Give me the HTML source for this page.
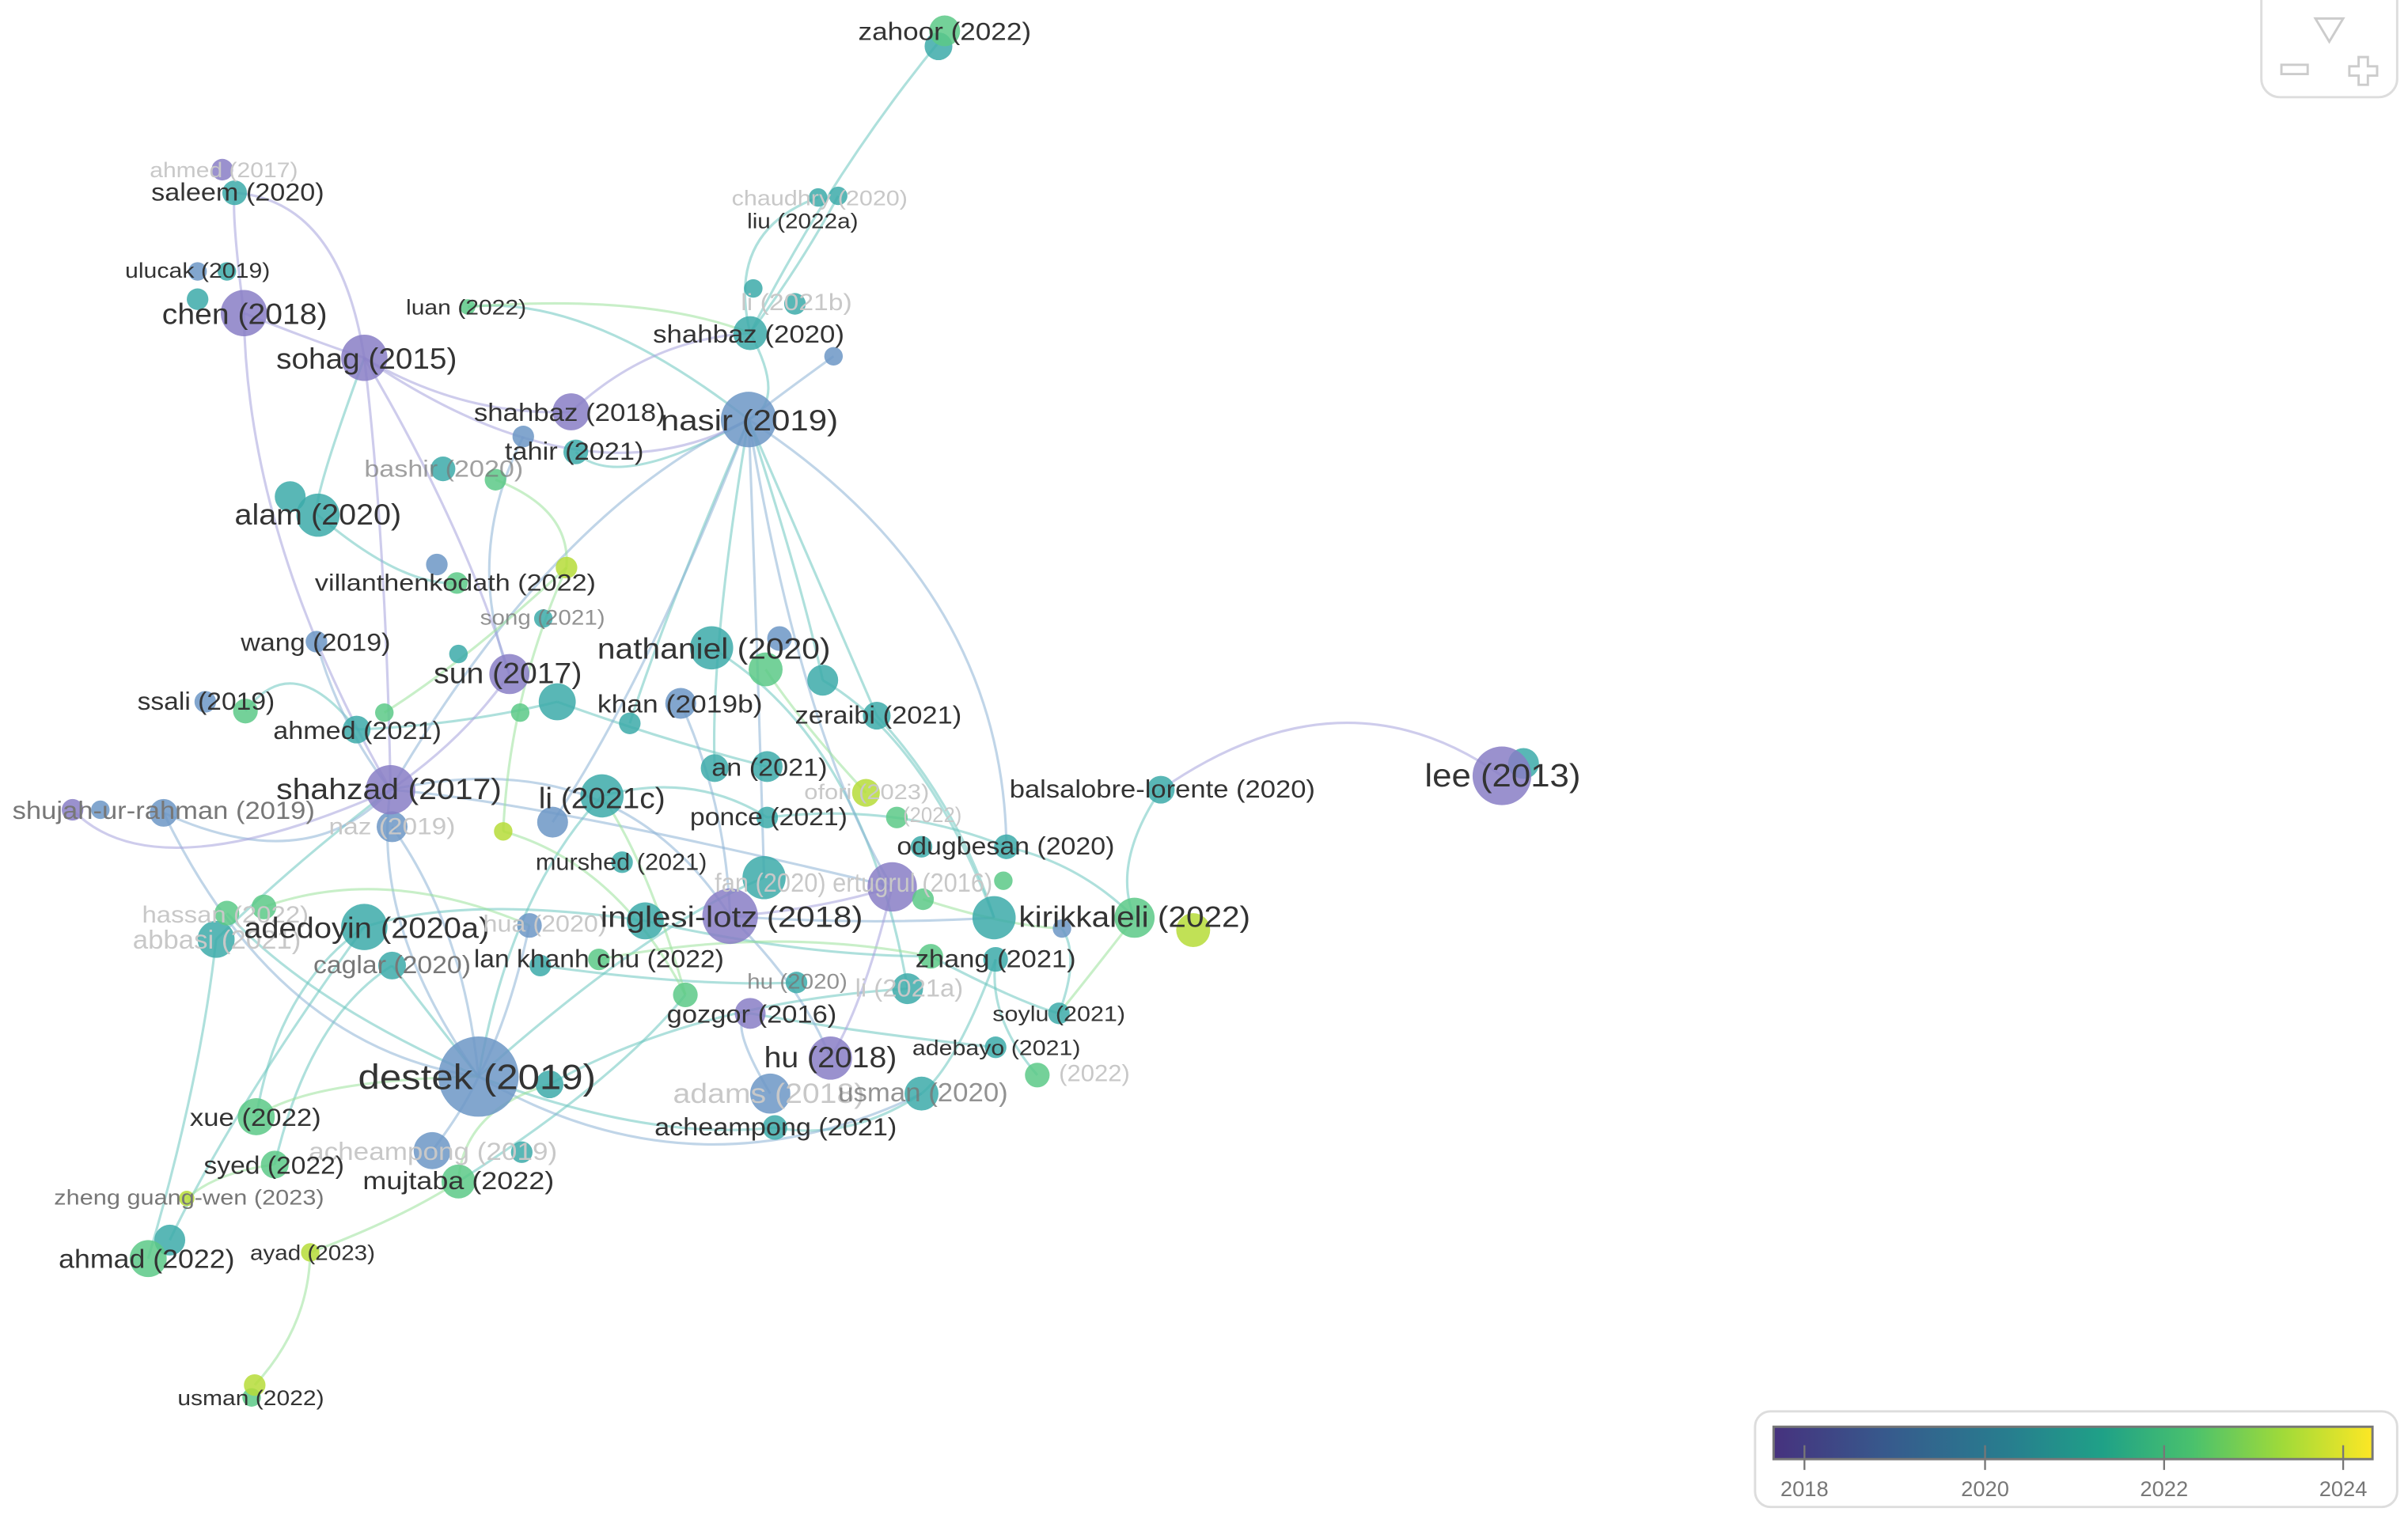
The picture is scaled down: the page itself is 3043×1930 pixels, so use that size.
<!DOCTYPE html>
<html><head><meta charset="utf-8"><style>
html,body{margin:0;padding:0;background:#fff;}
svg{display:block;}
text{font-family:"Liberation Sans",sans-serif;fill:#333;}
.f{fill:#c8c8c8;}
.g{fill:#777;}
</style></head><body>
<svg width="3043" height="1930" viewBox="0 0 1560 990" preserveAspectRatio="none" xmlns="http://www.w3.org/2000/svg">
<defs>
<linearGradient id="vir" x1="0" x2="1" y1="0" y2="0">
<stop offset="0" stop-color="#46327e"/><stop offset="0.2" stop-color="#365c8d"/><stop offset="0.4" stop-color="#277f8e"/><stop offset="0.55" stop-color="#1fa187"/><stop offset="0.7" stop-color="#4ac16d"/><stop offset="0.85" stop-color="#a0da39"/><stop offset="1" stop-color="#fde725"/>
</linearGradient>
</defs>
<g fill="none" stroke-width="1.6" stroke-opacity="0.55">
<!-- teal edges -->
<g stroke="#6cc6bf">
<path d="M610 25 Q540 110 486 216"/>
<path d="M486 216 Q470 150 530 128"/>
<path d="M486 216 Q520 170 543 127"/>
<path d="M486 216 Q510 260 485 272"/>
<path d="M485 272 Q380 190 303 199"/>
<path d="M485 272 Q400 320 373 293"/>
<path d="M485 272 Q430 400 408 469"/>
<path d="M485 272 Q520 380 533 441"/>
<path d="M485 272 Q460 420 463 498"/>
<path d="M485 272 Q540 400 568 464"/>
<path d="M236 232 Q200 330 206 334"/>
<path d="M206 334 Q260 380 296 378"/>
<path d="M159 461 Q190 420 231 473"/>
<path d="M231 473 Q300 470 361 455"/>
<path d="M361 455 Q430 480 497 497"/>
<path d="M390 516 Q450 500 497 530"/>
<path d="M497 530 Q580 520 652 549"/>
<path d="M652 549 Q700 560 735 595"/>
<path d="M752 512 Q720 560 735 595"/>
<path d="M236 601 Q300 580 418 597"/>
<path d="M418 597 Q520 620 603 620"/>
<path d="M603 620 Q660 650 686 657"/>
<path d="M645 622 Q620 690 597 709"/>
<path d="M597 709 Q550 740 502 731"/>
<path d="M310 698 Q420 740 502 731"/>
<path d="M310 698 Q420 600 495 569"/>
<path d="M310 698 Q330 580 390 516"/>
<path d="M254 626 Q280 660 310 698"/>
<path d="M166 724 Q180 640 236 601"/>
<path d="M178 755 Q200 660 254 626"/>
<path d="M96 816 Q130 700 140 609"/>
<path d="M110 804 Q150 720 236 601"/>
<path d="M533 441 Q600 480 644 595"/>
<path d="M568 464 Q620 520 644 595"/>
<path d="M461 420 Q560 480 588 641"/>
<path d="M140 609 Q190 560 253 512"/>
<path d="M356 703 Q450 650 588 641"/>
<path d="M297 766 Q400 700 444 645"/>
<path d="M486 657 Q560 670 645 679"/>
<path d="M672 697 Q640 660 645 622"/>
<path d="M686 657 Q700 620 688 602"/>
<path d="M147 592 Q200 650 310 698"/>
<path d="M350 626 Q450 640 516 637"/>
</g>
<!-- blue edges -->
<g stroke="#8db3d6">
<path d="M485 272 Q650 380 652 549"/>
<path d="M485 272 Q360 330 253 512"/>
<path d="M485 272 Q420 440 358 533"/>
<path d="M485 272 Q490 400 495 569"/>
<path d="M485 272 Q520 480 578 575"/>
<path d="M540 231 Q500 260 485 272"/>
<path d="M310 698 Q240 600 253 512"/>
<path d="M310 698 Q180 680 106 527"/>
<path d="M106 527 Q200 570 253 512"/>
<path d="M253 512 Q400 480 473 594"/>
<path d="M253 512 Q350 520 578 575"/>
<path d="M473 594 Q520 640 538 686"/>
<path d="M310 698 Q450 780 597 709"/>
<path d="M205 416 Q220 470 253 512"/>
<path d="M441 456 Q470 520 473 594"/>
<path d="M343 600 Q330 660 310 698"/>
<path d="M499 709 Q470 660 486 657"/>
<path d="M280 746 Q300 720 310 698"/>
<path d="M254 536 Q300 600 310 698"/>
<path d="M644 595 Q560 600 473 594"/>
<path d="M339 283 Q300 360 330 437"/>
</g>
<!-- purple edges -->
<g stroke="#a5a3dc">
<path d="M158 203 Q150 140 152 125"/>
<path d="M158 203 Q200 220 236 232"/>
<path d="M158 203 Q160 350 253 512"/>
<path d="M236 232 Q300 270 370 267"/>
<path d="M236 232 Q300 340 330 437"/>
<path d="M236 232 Q220 130 152 125"/>
<path d="M236 232 Q250 350 253 512"/>
<path d="M370 267 Q420 220 486 216"/>
<path d="M330 437 Q300 480 253 512"/>
<path d="M47 525 Q100 580 253 512"/>
<path d="M236 232 Q380 330 485 272"/>
<path d="M973 503 Q870 430 752 512"/>
<path d="M578 575 Q530 590 473 594"/>
<path d="M578 575 Q560 650 538 686"/>
</g>
<!-- green/yellow edges -->
<g stroke="#9be29a">
<path d="M303 199 Q420 190 486 216"/>
<path d="M321 311 Q370 330 367 368"/>
<path d="M367 368 Q330 450 326 539"/>
<path d="M201 812 Q200 860 165 898"/>
<path d="M201 812 Q260 790 297 766"/>
<path d="M121 777 Q140 760 178 755"/>
<path d="M561 514 Q520 470 496 434"/>
<path d="M735 595 Q700 640 686 657"/>
<path d="M388 622 Q500 600 603 620"/>
<path d="M444 645 Q420 560 390 516"/>
<path d="M166 724 Q200 700 310 698"/>
<path d="M297 766 Q300 720 356 703"/>
<path d="M249 462 Q300 430 367 368"/>
<path d="M171 588 Q250 560 343 600"/>
<path d="M598 583 Q650 600 688 602"/>
<path d="M326 539 Q400 560 444 645"/>
</g>
</g>
<!-- nodes -->
<g fill-opacity="0.85">
<g fill="#3caaa9">
<circle cx="608" cy="30" r="9"/>
<circle cx="152" cy="125" r="8"/>
<circle cx="530" cy="128" r="6"/><circle cx="543" cy="127" r="6"/>
<circle cx="147" cy="176" r="6"/><circle cx="128" cy="194" r="7"/>
<circle cx="515" cy="197" r="7"/><circle cx="488" cy="187" r="6"/>
<circle cx="486" cy="216" r="11"/>
<circle cx="373" cy="293" r="8"/><circle cx="287" cy="304" r="8"/>
<circle cx="188" cy="322" r="10"/><circle cx="206" cy="334" r="14"/>
<circle cx="352" cy="401" r="6"/><circle cx="461" cy="420" r="14"/>
<circle cx="297" cy="424" r="6"/><circle cx="533" cy="441" r="10"/>
<circle cx="361" cy="455" r="12"/><circle cx="568" cy="464" r="9"/>
<circle cx="231" cy="473" r="9"/><circle cx="408" cy="469" r="7"/>
<circle cx="463" cy="498" r="9"/><circle cx="497" cy="497" r="10"/>
<circle cx="987" cy="495" r="10"/><circle cx="752" cy="512" r="9"/>
<circle cx="390" cy="516" r="14"/><circle cx="497" cy="530" r="7"/>
<circle cx="652" cy="549" r="8"/><circle cx="597" cy="549" r="7"/>
<circle cx="403" cy="559" r="7"/><circle cx="495" cy="569" r="14"/>
<circle cx="140" cy="609" r="12"/><circle cx="236" cy="601" r="15"/>
<circle cx="418" cy="597" r="12"/><circle cx="644" cy="595" r="14"/>
<circle cx="645" cy="622" r="8"/><circle cx="254" cy="626" r="9"/>
<circle cx="350" cy="626" r="7"/><circle cx="516" cy="637" r="7"/>
<circle cx="588" cy="641" r="10"/><circle cx="686" cy="657" r="7"/>
<circle cx="645" cy="679" r="7"/><circle cx="356" cy="703" r="9"/>
<circle cx="597" cy="709" r="11"/><circle cx="502" cy="731" r="8"/>
<circle cx="338" cy="747" r="7"/><circle cx="110" cy="804" r="10"/>
</g>
<g fill="#6c97c6">
<circle cx="128" cy="176" r="6"/><circle cx="540" cy="231" r="6"/>
<circle cx="339" cy="283" r="7"/><circle cx="485" cy="272" r="18"/>
<circle cx="283" cy="366" r="7"/><circle cx="505" cy="414" r="8"/>
<circle cx="205" cy="416" r="7"/><circle cx="133" cy="455" r="7"/>
<circle cx="441" cy="456" r="10"/><circle cx="358" cy="533" r="10"/>
<circle cx="65" cy="525" r="6"/><circle cx="106" cy="527" r="9"/>
<circle cx="254" cy="536" r="10"/><circle cx="343" cy="600" r="8"/>
<circle cx="688" cy="602" r="6"/><circle cx="310" cy="698" r="26"/>
<circle cx="499" cy="709" r="13"/><circle cx="280" cy="746" r="12"/>
</g>
<g fill="#887ec6">
<circle cx="144" cy="110" r="7"/><circle cx="158" cy="203" r="15"/>
<circle cx="236" cy="232" r="15"/><circle cx="370" cy="267" r="12"/>
<circle cx="330" cy="437" r="13"/><circle cx="973" cy="503" r="19"/>
<circle cx="253" cy="512" r="16"/><circle cx="47" cy="525" r="7"/>
<circle cx="578" cy="575" r="16"/><circle cx="473" cy="594" r="18"/>
<circle cx="486" cy="657" r="10"/><circle cx="538" cy="686" r="14"/>
</g>
<g fill="#5cc987">
<circle cx="612" cy="20" r="10"/><circle cx="303" cy="199" r="5"/>
<circle cx="321" cy="311" r="7"/><circle cx="296" cy="378" r="7"/>
<circle cx="496" cy="434" r="11"/><circle cx="159" cy="461" r="8"/>
<circle cx="249" cy="462" r="6"/><circle cx="337" cy="462" r="6"/>
<circle cx="581" cy="530" r="7"/><circle cx="650" cy="571" r="6"/>
<circle cx="598" cy="583" r="7"/><circle cx="147" cy="592" r="8"/>
<circle cx="171" cy="588" r="8"/><circle cx="735" cy="595" r="13"/>
<circle cx="603" cy="620" r="8"/><circle cx="388" cy="622" r="7"/>
<circle cx="444" cy="645" r="8"/><circle cx="672" cy="697" r="8"/>
<circle cx="166" cy="724" r="12"/><circle cx="178" cy="755" r="9"/>
<circle cx="297" cy="766" r="11"/><circle cx="96" cy="816" r="12"/>
<circle cx="163" cy="906" r="6"/>
</g>
<g fill="#b6dc38">
<circle cx="367" cy="368" r="7"/><circle cx="561" cy="514" r="9"/>
<circle cx="326" cy="539" r="6"/><circle cx="773" cy="603" r="11"/>
<circle cx="121" cy="777" r="5"/><circle cx="201" cy="812" r="6"/>
<circle cx="165" cy="898" r="7"/>
</g>
</g>
<!-- labels -->
<g font-size="16">
<text x="556" y="26" textLength="112" lengthAdjust="spacingAndGlyphs">zahoor (2022)</text>
<text class="f" x="97" y="115" font-size="14" textLength="96" lengthAdjust="spacingAndGlyphs">ahmed (2017)</text>
<text x="98" y="130" textLength="112" lengthAdjust="spacingAndGlyphs">saleem (2020)</text>
<text class="f" x="474" y="133" font-size="14" textLength="114" lengthAdjust="spacingAndGlyphs">chaudhry (2020)</text>
<text x="484" y="148" font-size="14" textLength="72" lengthAdjust="spacingAndGlyphs">liu (2022a)</text>
<text x="81" y="180" font-size="14" textLength="94" lengthAdjust="spacingAndGlyphs">ulucak (2019)</text>
<text x="105" y="210" font-size="19" textLength="107" lengthAdjust="spacingAndGlyphs">chen (2018)</text>
<text x="263" y="204" font-size="14" textLength="78" lengthAdjust="spacingAndGlyphs">luan (2022)</text>
<text class="f" x="480" y="201" font-size="15" textLength="72" lengthAdjust="spacingAndGlyphs">li (2021b)</text>
<text x="179" y="239" font-size="19" textLength="117" lengthAdjust="spacingAndGlyphs">sohag (2015)</text>
<text x="423" y="222" font-size="16" textLength="124" lengthAdjust="spacingAndGlyphs">shahbaz (2020)</text>
<text x="307" y="273" font-size="16" textLength="124" lengthAdjust="spacingAndGlyphs">shahbaz (2018)</text>
<text x="428" y="279" font-size="19" textLength="115" lengthAdjust="spacingAndGlyphs">nasir (2019)</text>
<text x="327" y="298" font-size="16" textLength="90" lengthAdjust="spacingAndGlyphs">tahir (2021)</text>
<text class="g" x="236" y="309" font-size="15" fill-opacity="0.7" textLength="103" lengthAdjust="spacingAndGlyphs">bashir (2020)</text>
<text x="152" y="340" font-size="19" textLength="108" lengthAdjust="spacingAndGlyphs">alam (2020)</text>
<text x="204" y="383" font-size="15" textLength="182" lengthAdjust="spacingAndGlyphs">villanthenkodath (2022)</text>
<text class="g" x="311" y="405" font-size="14" fill-opacity="0.8" textLength="81" lengthAdjust="spacingAndGlyphs">song (2021)</text>
<text x="387" y="427" font-size="19" textLength="151" lengthAdjust="spacingAndGlyphs">nathaniel (2020)</text>
<text x="156" y="422" font-size="16" textLength="97" lengthAdjust="spacingAndGlyphs">wang (2019)</text>
<text x="281" y="443" font-size="19" textLength="96" lengthAdjust="spacingAndGlyphs">sun (2017)</text>
<text x="89" y="460" font-size="16" textLength="89" lengthAdjust="spacingAndGlyphs">ssali (2019)</text>
<text x="387" y="462" font-size="16" textLength="107" lengthAdjust="spacingAndGlyphs">khan (2019b)</text>
<text x="515" y="469" font-size="16" textLength="108" lengthAdjust="spacingAndGlyphs">zeraibi (2021)</text>
<text x="177" y="479" font-size="16" textLength="109" lengthAdjust="spacingAndGlyphs">ahmed (2021)</text>
<text x="461" y="503" font-size="16" textLength="75" lengthAdjust="spacingAndGlyphs">an (2021)</text>
<text x="923" y="510" font-size="21" textLength="101" lengthAdjust="spacingAndGlyphs">lee (2013)</text>
<text x="654" y="517" font-size="16" textLength="198" lengthAdjust="spacingAndGlyphs">balsalobre-lorente (2020)</text>
<text class="f" x="521" y="518" font-size="14" textLength="81" lengthAdjust="spacingAndGlyphs">ofori (2023)</text>
<text class="f" x="585" y="533" font-size="14" textLength="38" lengthAdjust="spacingAndGlyphs">(2022)</text>
<text x="179" y="518" font-size="19" textLength="146" lengthAdjust="spacingAndGlyphs">shahzad (2017)</text>
<text x="349" y="524" font-size="19" textLength="82" lengthAdjust="spacingAndGlyphs">li (2021c)</text>
<text class="g" x="8" y="531" font-size="16" textLength="196" lengthAdjust="spacingAndGlyphs">shujah-ur-rahman (2019)</text>
<text class="f" x="213" y="541" font-size="15" textLength="82" lengthAdjust="spacingAndGlyphs">naz (2019)</text>
<text x="447" y="535" font-size="16" textLength="102" lengthAdjust="spacingAndGlyphs">ponce (2021)</text>
<text x="581" y="554" font-size="16" textLength="141" lengthAdjust="spacingAndGlyphs">odugbesan (2020)</text>
<text x="347" y="564" font-size="15" textLength="111" lengthAdjust="spacingAndGlyphs">murshed (2021)</text>
<text class="f" x="463" y="578" font-size="17" textLength="180" lengthAdjust="spacingAndGlyphs">fan (2020) ertugrul (2016)</text>
<text class="f" x="92" y="598" font-size="15" textLength="108" lengthAdjust="spacingAndGlyphs">hassan (2022)</text>
<text class="f" x="86" y="615" font-size="17" textLength="109" lengthAdjust="spacingAndGlyphs">abbasi (2021)</text>
<text x="158" y="608" font-size="19" textLength="159" lengthAdjust="spacingAndGlyphs">adedoyin (2020a)</text>
<text class="f" x="313" y="604" font-size="15" textLength="80" lengthAdjust="spacingAndGlyphs">hua (2020)</text>
<text x="389" y="601" font-size="19" textLength="170" lengthAdjust="spacingAndGlyphs">inglesi-lotz (2018)</text>
<text x="660" y="601" font-size="19" textLength="150" lengthAdjust="spacingAndGlyphs">kirikkaleli (2022)</text>
<text x="593" y="627" font-size="16" textLength="104" lengthAdjust="spacingAndGlyphs">zhang (2021)</text>
<text class="g" x="203" y="631" font-size="16" textLength="102" lengthAdjust="spacingAndGlyphs">caglar (2020)</text>
<text x="307" y="627" font-size="16" textLength="162" lengthAdjust="spacingAndGlyphs">lan khanh chu (2022)</text>
<text class="g" x="484" y="641" font-size="14" fill-opacity="0.8" textLength="65" lengthAdjust="spacingAndGlyphs">hu (2020)</text>
<text class="f" x="554" y="646" font-size="16" textLength="70" lengthAdjust="spacingAndGlyphs">li (2021a)</text>
<text x="432" y="663" font-size="16" textLength="110" lengthAdjust="spacingAndGlyphs">gozgor (2016)</text>
<text x="643" y="662" font-size="14" textLength="86" lengthAdjust="spacingAndGlyphs">soylu (2021)</text>
<text x="591" y="684" font-size="14" textLength="109" lengthAdjust="spacingAndGlyphs">adebayo (2021)</text>
<text class="f" x="686" y="701" font-size="15" textLength="46" lengthAdjust="spacingAndGlyphs">(2022)</text>
<text x="232" y="706" font-size="23" textLength="154" lengthAdjust="spacingAndGlyphs">destek (2019)</text>
<text x="495" y="692" font-size="19" textLength="86" lengthAdjust="spacingAndGlyphs">hu (2018)</text>
<text class="f" x="436" y="715" font-size="18" textLength="124" lengthAdjust="spacingAndGlyphs">adams (2018)</text>
<text class="g" x="543" y="714" font-size="17" fill-opacity="0.8" textLength="110" lengthAdjust="spacingAndGlyphs">usman (2020)</text>
<text x="424" y="736" font-size="16" textLength="157" lengthAdjust="spacingAndGlyphs">acheampong (2021)</text>
<text x="123" y="730" font-size="16" textLength="85" lengthAdjust="spacingAndGlyphs">xue (2022)</text>
<text class="f" x="200" y="752" font-size="16" textLength="161" lengthAdjust="spacingAndGlyphs">acheampong (2019)</text>
<text x="132" y="761" font-size="16" textLength="91" lengthAdjust="spacingAndGlyphs">syed (2022)</text>
<text x="235" y="771" font-size="16" textLength="124" lengthAdjust="spacingAndGlyphs">mujtaba (2022)</text>
<text class="g" x="35" y="781" font-size="14" textLength="175" lengthAdjust="spacingAndGlyphs">zheng guang-wen (2023)</text>
<text x="38" y="822" font-size="17" textLength="114" lengthAdjust="spacingAndGlyphs">ahmad (2022)</text>
<text x="162" y="817" font-size="14" textLength="81" lengthAdjust="spacingAndGlyphs">ayad (2023)</text>
<text x="115" y="911" font-size="14" textLength="95" lengthAdjust="spacingAndGlyphs">usman (2022)</text>
</g>
<!-- control panel -->
<rect x="1465" y="-12" width="88" height="75" rx="12" fill="#fff" stroke="#ddd" stroke-width="1.5"/>
<path d="M1500 12 L1518 12 L1509 27 Z" fill="none" stroke="#ccc" stroke-width="1.5"/>
<rect x="1478" y="42" width="17" height="6" fill="none" stroke="#ccc" stroke-width="1.5"/>
<path d="M1528 37 h6 v6 h6 v6 h-6 v6 h-6 v-6 h-6 v-6 h6 Z" fill="none" stroke="#ccc" stroke-width="1.5"/>
<!-- legend -->
<rect x="1137" y="915" width="416" height="62" rx="10" fill="#fff" stroke="#ddd" stroke-width="1.5"/>
<rect x="1149" y="925" width="388" height="21" fill="url(#vir)" stroke="#777" stroke-width="1.5"/>
<g stroke="#777" stroke-width="1.2">
<line x1="1169" y1="937" x2="1169" y2="953"/><line x1="1286" y1="937" x2="1286" y2="953"/>
<line x1="1402" y1="937" x2="1402" y2="953"/><line x1="1518" y1="937" x2="1518" y2="953"/>
</g>
<g font-size="14" class="g" text-anchor="middle">
<text x="1169" y="970" class="g">2018</text><text x="1286" y="970" class="g">2020</text>
<text x="1402" y="970" class="g">2022</text><text x="1518" y="970" class="g">2024</text>
</g>
</svg>
</body></html>
